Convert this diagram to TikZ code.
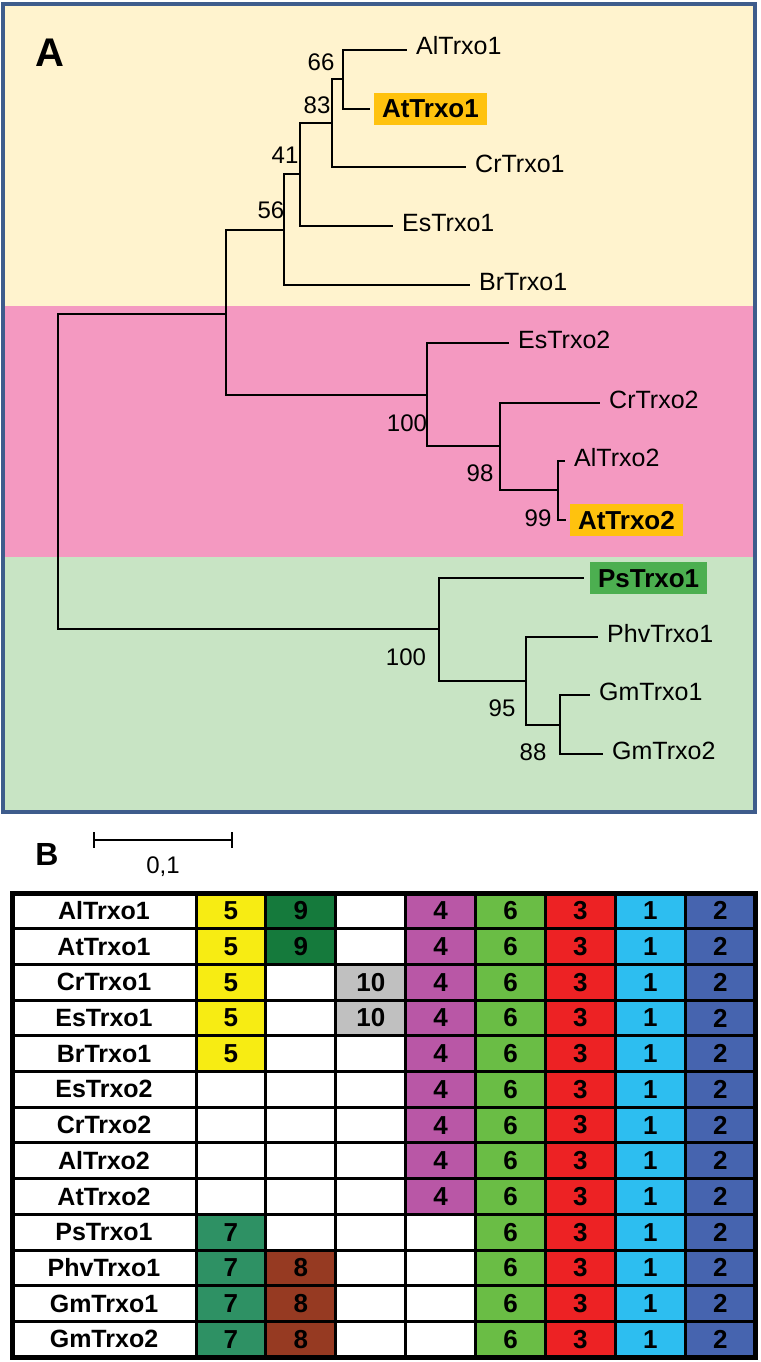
\documentclass[tikz,border=0pt]{standalone}
\usepackage{fontspec}
\setmainfont{Liberation Sans}
\usetikzlibrary{positioning}

\definecolor{framecol}{RGB}{62,92,140}
\definecolor{bandyellow}{RGB}{255,243,206}
\definecolor{bandpink}{RGB}{244,153,193}
\definecolor{bandgreen}{RGB}{200,228,196}
\definecolor{gold}{RGB}{255,194,14}
\definecolor{psgreen}{RGB}{76,175,80}
\definecolor{col0}{RGB}{255,255,255}
\definecolor{col1}{RGB}{45,190,240}
\definecolor{col2}{RGB}{70,100,175}
\definecolor{col3}{RGB}{237,34,36}
\definecolor{col4}{RGB}{185,87,166}
\definecolor{col5}{RGB}{247,236,19}
\definecolor{col6}{RGB}{106,189,69}
\definecolor{col7}{RGB}{46,145,100}
\definecolor{col8}{RGB}{150,58,34}
\definecolor{col9}{RGB}{21,122,60}
\definecolor{col10}{RGB}{192,192,192}

\begin{document}
\begin{tikzpicture}[x=1pt,y=-1pt,
  leaf/.style={anchor=west,inner xsep=9pt,font=\fontsize{25}{30}\selectfont,text height=14pt,text depth=4pt},
  hilite/.style={anchor=west,outer xsep=4pt,inner xsep=8pt,inner ysep=7pt,font=\fontsize{26}{30}\selectfont\bfseries,text height=18pt,text depth=0pt},
  boot/.style={font=\fontsize{24}{28}\selectfont,inner sep=0pt},
  branch/.style={line width=1.3pt,black},
  panel/.style={font=\fontsize{32}{36}\selectfont\bfseries,inner sep=0pt},
  cell/.style={draw=black,line width=3pt,minimum width=69.9pt,minimum height=35.7pt,inner sep=0pt,font=\fontsize{26}{30}\selectfont\bfseries},
  namecell/.style={cell,minimum width=184pt,fill=white,font=\fontsize{25}{30}\selectfont\bfseries}]
  \useasboundingbox (0,0) rectangle (760,1362);

  % panel A background
  \fill[bandyellow] (5,6) rectangle (753,306);
  \fill[bandpink] (5,306) rectangle (753,557);
  \fill[bandgreen] (5,557) rectangle (753,810);
  \draw[framecol,line width=4.5pt] (3,4) rectangle (755,812);
  \node[panel,font=\fontsize{40}{44}\selectfont\bfseries] (A) at (50,53) {A};

  % leaves
  \node[leaf] (AlTrxo1) at (407,50) {AlTrxo1};
  \node[hilite,fill=gold] (AtTrxo1) at (370,109) {AtTrxo1};
  \node[leaf] (CrTrxo1) at (466,167) {CrTrxo1};
  \node[leaf] (EsTrxo1) at (393,226) {EsTrxo1};
  \node[leaf] (BrTrxo1) at (470,285) {BrTrxo1};
  \node[leaf] (EsTrxo2) at (509,343) {EsTrxo2};
  \node[leaf] (CrTrxo2) at (600,403) {CrTrxo2};
  \node[leaf] (AlTrxo2) at (565,461) {AlTrxo2};
  \node[hilite,fill=gold] (AtTrxo2) at (566,520) {AtTrxo2};
  \node[hilite,fill=psgreen,outer xsep=6pt] (PsTrxo1) at (584,578) {PsTrxo1};
  \node[leaf] (PhvTrxo1) at (598,637) {PhvTrxo1};
  \node[leaf] (GmTrxo1) at (590,695) {GmTrxo1};
  \node[leaf] (GmTrxo2) at (603,754) {GmTrxo2};

  % inner nodes
  \coordinate (n66) at (343,79);
  \coordinate (n83) at (332,123);
  \coordinate (n41) at (300,174);
  \coordinate (n56) at (284,230);
  \coordinate (nup) at (226,314);
  \coordinate (n100a) at (427,395);
  \coordinate (n98) at (500,446);
  \coordinate (n99) at (558,490);
  \coordinate (root) at (58,470);
  \coordinate (n100b) at (439,629);
  \coordinate (n95) at (526,681);
  \coordinate (n88) at (560,725);

  \draw[branch] (n66) |- (AlTrxo1.west) (n66) |- (AtTrxo1.west)
    (n83) |- (n66) (n83) |- (CrTrxo1.west)
    (n41) |- (n83) (n41) |- (EsTrxo1.west)
    (n56) |- (n41) (n56) |- (BrTrxo1.west)
    (nup) |- (n56) (nup) |- (n100a)
    (n100a) |- (EsTrxo2.west) (n100a) |- (n98)
    (n98) |- (CrTrxo2.west) (n98) |- (n99)
    (n99) |- (AlTrxo2.west) (n99) |- (AtTrxo2.west)
    (root) |- (nup) (root) |- (n100b)
    (n100b) |- (PsTrxo1.west) (n100b) |- (n95)
    (n95) |- (PhvTrxo1.west) (n95) |- (n88)
    (n88) |- (GmTrxo1.west) (n88) |- (GmTrxo2.west);

  % bootstrap values
  \node[boot] (b66) at (321,62) {66};
  \node[boot] (b83) at (317,105) {83};
  \node[boot] (b41) at (285,155) {41};
  \node[boot] (b56) at (271,210) {56};
  \node[boot] (b100a) at (407,423) {100};
  \node[boot] (b98) at (480,473) {98};
  \node[boot] (b99) at (538,518) {99};
  \node[boot] (b100b) at (406,657) {100};
  \node[boot] (b95) at (502,708) {95};
  \node[boot] (b88) at (533,752) {88};

  % panel B and scale
  \node[panel] (B) at (47,854) {B};
  \coordinate (sb1) at (94,840);
  \coordinate (sb2) at (232,840);
  \draw[branch] (sb1) -- (sb2) (sb1) ++(0,-8) -- ++(0,16) (sb2) ++(0,-8) -- ++(0,16);
  \node[boot] (scale) at (163,867) {0,1};

  % motif table
  \foreach \gene/\pa/\pb/\pc/\pd/\pe/\pf/\pg/\ph [count=\row] in {
    AlTrxo1/5/9/0/4/6/3/1/2, AtTrxo1/5/9/0/4/6/3/1/2,
    CrTrxo1/5/0/10/4/6/3/1/2, EsTrxo1/5/0/10/4/6/3/1/2,
    BrTrxo1/5/0/0/4/6/3/1/2, EsTrxo2/0/0/0/4/6/3/1/2,
    CrTrxo2/0/0/0/4/6/3/1/2, AlTrxo2/0/0/0/4/6/3/1/2,
    AtTrxo2/0/0/0/4/6/3/1/2, PsTrxo1/7/0/0/0/6/3/1/2,
    PhvTrxo1/7/8/0/0/6/3/1/2, GmTrxo1/7/8/0/0/6/3/1/2,
    GmTrxo2/7/8/0/0/6/3/1/2}
  {
    \node[namecell] (name\row) at (104,{875.15+35.7*\row}) {\gene};
    \foreach \v [count=\k] in {\pa,\pb,\pc,\pd,\pe,\pf,\pg,\ph}
      \node[cell,fill=col\v] (cell\row-\k) at ({161.05+69.9*\k},{875.15+35.7*\row}) {\ifnum\v=0 \else\v\fi};
  }
  \draw[line width=5pt] (12,893) rectangle (755,1357);
\end{tikzpicture}
\end{document}
